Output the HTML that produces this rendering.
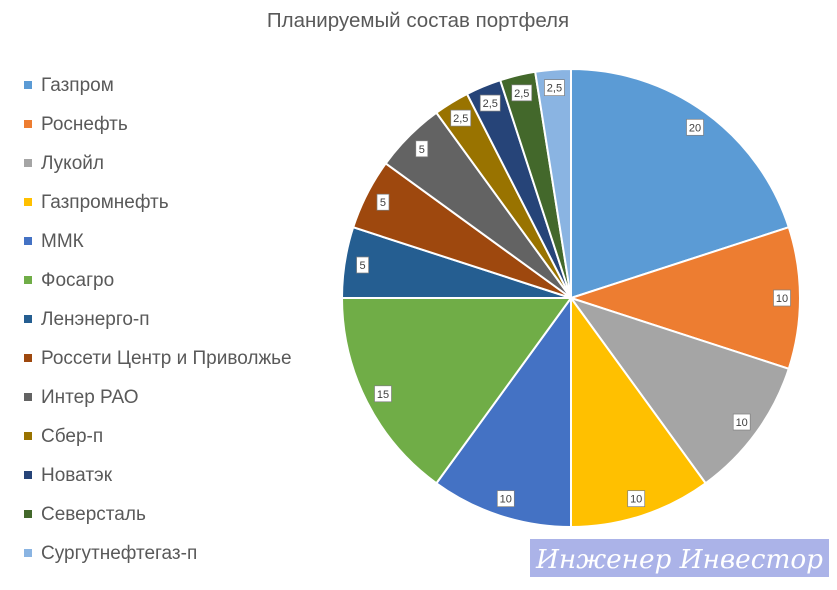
<!DOCTYPE html>
<html><head><meta charset="utf-8"><style>
body{margin:0;background:#fff;width:837px;height:585px;overflow:hidden;font-family:"Liberation Sans",sans-serif}
</style></head><body>
<svg width="837" height="585" id="chart">
<text x="418" y="27" text-anchor="middle" font-size="20.5" fill="#595959">Планируемый состав портфеля</text>
<g id="slices"></g><g id="labels"></g><g id="legend"></g>
<rect x="530" y="539" width="299" height="38" fill="#abb3e8"/>
<text x="536" y="568" font-size="26" font-style="italic" fill="#fff" font-family="'DejaVu Serif',serif" textLength="287" lengthAdjust="spacingAndGlyphs">Инженер Инвестор</text>
</svg>
<script>
const categories=["Газпром","Роснефть","Лукойл","Газпромнефть","ММК","Фосагро","Ленэнерго-п","Россети Центр и Приволжье","Интер РАО","Сбер-п","Новатэк","Северсталь","Сургутнефтегаз-п"];
const values=[20,10,10,10,10,15,5,5,5,2.5,2.5,2.5,2.5];
const labels=["20","10","10","10","10","15","5","5","5","2,5","2,5","2,5","2,5"];
const colors=["#5B9BD5","#ED7D31","#A5A5A5","#FFC000","#4472C4","#70AD47","#255E91","#9E480E","#636363","#997300","#264478","#43682B","#8AB4E2"];
const NS="http://www.w3.org/2000/svg",cx=571,cy=298,r=229;
const total=values.reduce((a,b)=>a+b,0);
const S=document.getElementById('slices'),L=document.getElementById('labels'),G=document.getElementById('legend');
let a0=0;
function pt(a,rr){return [cx+rr*Math.sin(a),cy-rr*Math.cos(a)];}
values.forEach((v,i)=>{
 const a1=a0+v/total*2*Math.PI;
 const p0=pt(a0,r),p1=pt(a1,r),lg=(a1-a0)>Math.PI?1:0;
 const p=document.createElementNS(NS,'path');
 p.setAttribute('d',`M${cx},${cy}L${p0[0]},${p0[1]}A${r},${r} 0 ${lg} 1 ${p1[0]},${p1[1]}Z`);
 p.setAttribute('fill',colors[i]);p.setAttribute('stroke','#fff');p.setAttribute('stroke-width','2');
 
 
 S.appendChild(p);
 const m=pt((a0+a1)/2,211);
 const t=labels[i],w=t.length>2?20:(t.length>1?17:12);
 const b=document.createElementNS(NS,'rect');
 b.setAttribute('x',m[0]-w/2);b.setAttribute('y',m[1]-8);b.setAttribute('width',w);b.setAttribute('height',16);
 b.setAttribute('fill','#fff');b.setAttribute('stroke','#7f7f7f');b.setAttribute('stroke-width','0.7');
 
 
 L.appendChild(b);
 const tx=document.createElementNS(NS,'text');
 tx.setAttribute('x',m[0]);tx.setAttribute('y',m[1]+4);tx.setAttribute('text-anchor','middle');
 tx.setAttribute('font-size','11');tx.setAttribute('fill','#404040');tx.textContent=t;
 
 
 L.appendChild(tx);
 a0=a1;
});
categories.forEach((c,i)=>{
 const y=85+i*39;
 const g=document.createElementNS(NS,'g');
 
 
 const sq=document.createElementNS(NS,'rect');
 sq.setAttribute('x',24);sq.setAttribute('y',y-4);sq.setAttribute('width',8);sq.setAttribute('height',8);sq.setAttribute('fill',colors[i]);
 g.appendChild(sq);
 const t=document.createElementNS(NS,'text');
 t.setAttribute('x',41);t.setAttribute('y',y+6);t.setAttribute('font-size','19');t.setAttribute('fill','#595959');t.textContent=c;
 g.appendChild(t);G.appendChild(g);
});
</script>
</body></html>
